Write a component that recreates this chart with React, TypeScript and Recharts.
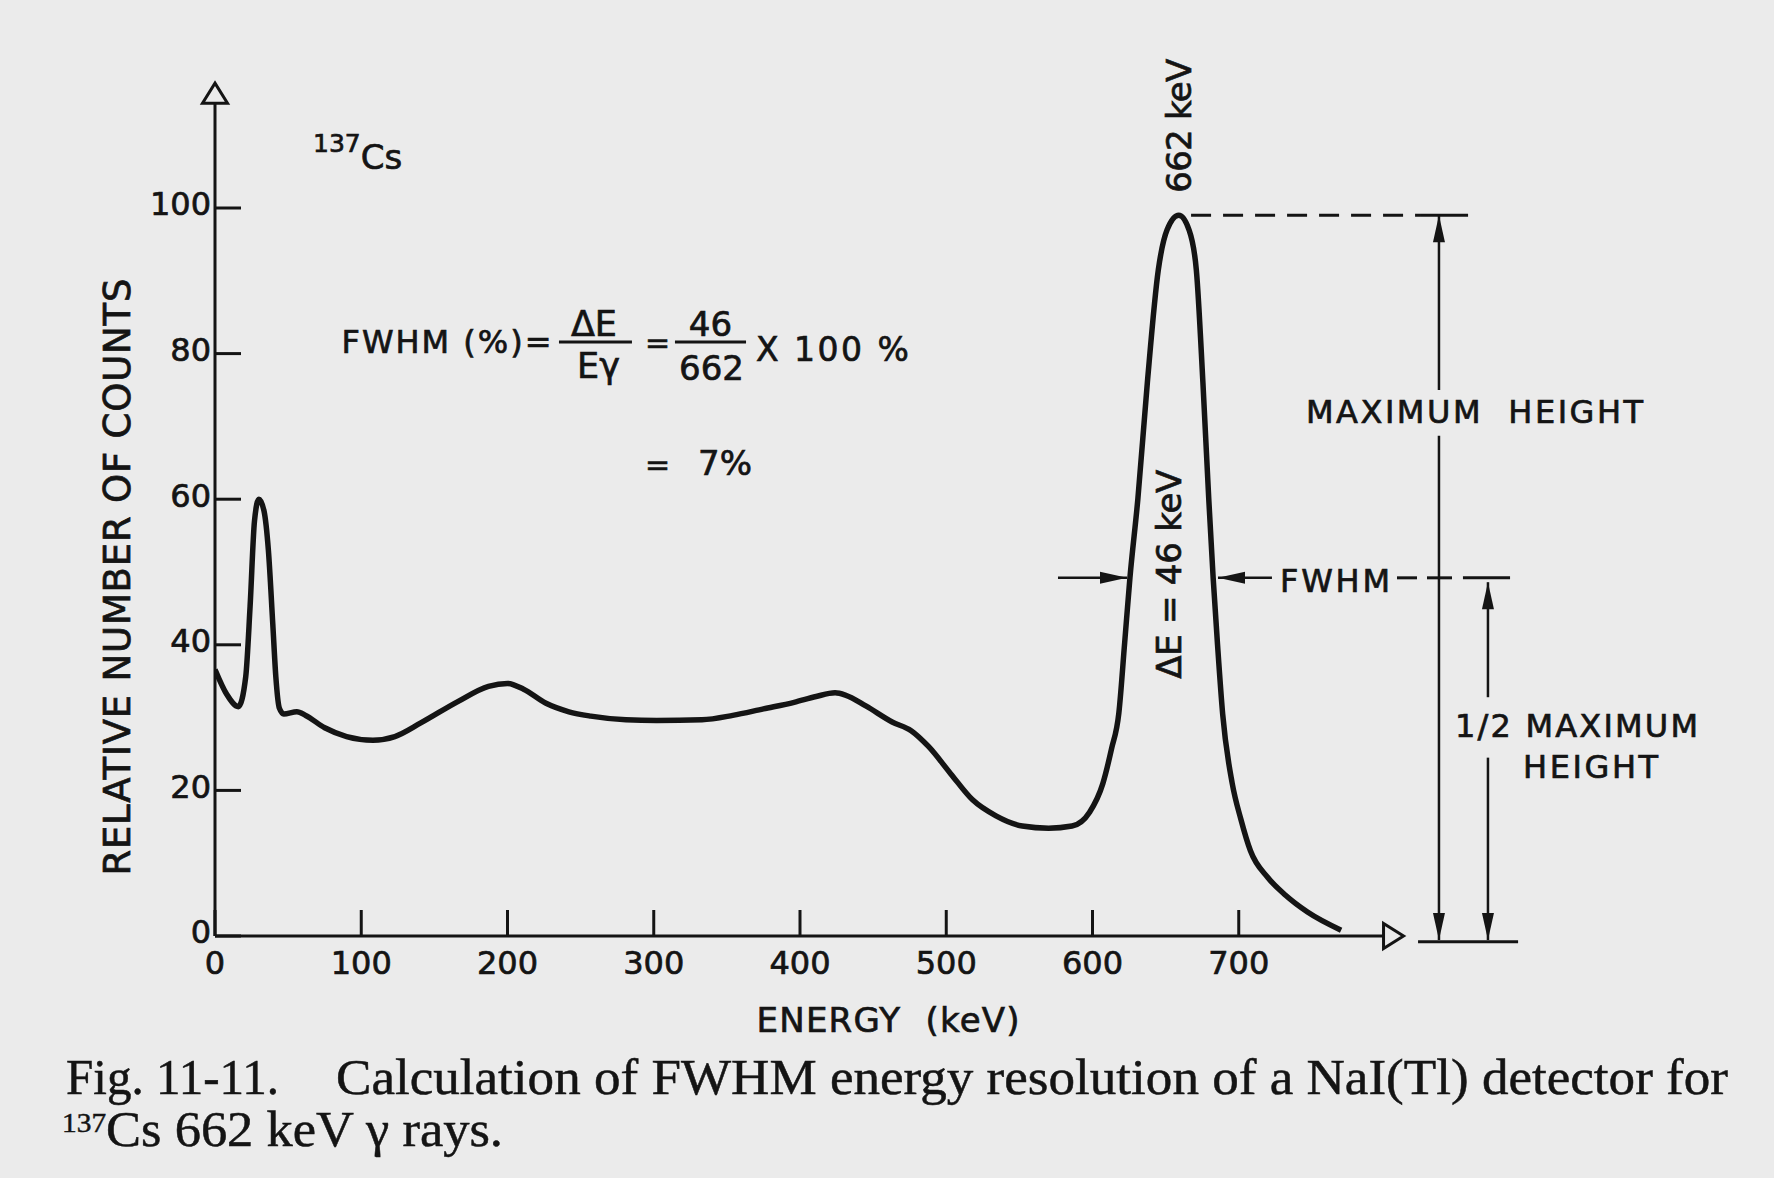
import React from 'react';
import { LineChart, Line, XAxis, YAxis, ReferenceLine, ReferenceDot } from 'recharts';

// 137Cs pulse-height spectrum from a NaI(Tl) detector
const energyKeV = [
  0, 8, 16, 21, 24, 27, 30, 33.5, 36.5, 39.5, 41.6, 44, 47, 56, 62, 75, 90, 108, 123, 141,
  166, 187, 200, 211, 226, 242, 257, 281, 302, 333, 354, 375, 396, 411, 424, 431, 445, 463,
  476, 488, 503, 518, 534, 552, 570, 586, 598, 607, 613, 618, 622, 625.6, 631, 637.5, 645,
  651, 659, 666, 671, 675.5, 679.5, 682.5, 685.5, 689, 695.5, 701.5, 708, 720, 732, 747, 770,
];
const relCounts = [
  36.6, 33.2, 31.5, 35.6, 45.3, 57, 60, 58.4, 53, 42.9, 35.6, 31.3, 30.5, 30.8, 30.3, 28.6,
  27.4, 26.9, 27.4, 29.3, 32.2, 34.3, 34.7, 33.9, 32, 30.8, 30.2, 29.7, 29.6, 29.7, 30.3,
  31.2, 32.1, 32.9, 33.4, 33.1, 31.6, 29.4, 28.2, 26, 22.3, 18.7, 16.5, 15.1, 14.8, 15.1, 17,
  20.9, 25.7, 30.6, 40.3, 49.2, 60, 76, 91.5, 97, 99, 97, 91.5, 76, 60, 49.2, 40, 30.5, 21,
  16, 11.7, 8, 5.6, 3.3, 0.8,
];

const xTicks = [0, 100, 200, 300, 400, 500, 600, 700];
const yTicks = [0, 20, 40, 60, 80, 100];

const spectrum = energyKeV.map((e, i) => ({ e, c: relCounts[i] }));

const INK = '#141414';
const PAPER = '#ebebeb';
const SANS = '"DejaVu Sans", sans-serif';
const SERIF = '"Liberation Serif", "Times New Roman", serif';
const BOLDEN = 0.7; // lettering in the figure is a bit heavier than DejaVu regular

// straight line with optional filled arrowheads (dimension lines)
function dim(opts: { start?: boolean; end?: boolean; dash?: string; w?: number } = {}) {
  return (p: any) => {
    const { x1, y1, x2, y2 } = p;
    const len = Math.hypot(x2 - x1, y2 - y1) || 1;
    const ux = (x2 - x1) / len;
    const uy = (y2 - y1) / len;
    const head = (tx: number, ty: number, dx: number, dy: number) => {
      const L = 27;
      const W = 6;
      const bx = tx - dx * L;
      const by = ty - dy * L;
      return (
        <polygon
          points={`${tx},${ty} ${bx - dy * W},${by + dx * W} ${bx + dy * W},${by - dx * W}`}
          fill={INK}
        />
      );
    };
    return (
      <g>
        <line x1={x1} y1={y1} x2={x2} y2={y2} stroke={INK} strokeWidth={opts.w ?? 2.5} strokeDasharray={opts.dash} />
        {opts.end && head(x2, y2, ux, uy)}
        {opts.start && head(x1, y1, -ux, -uy)}
      </g>
    );
  };
}

// axis line ending in a hollow triangle
const axisArrow = (p: any) => {
  const { x1, y1, x2, y2 } = p;
  const len = Math.hypot(x2 - x1, y2 - y1) || 1;
  const ux = (x2 - x1) / len;
  const uy = (y2 - y1) / len;
  const L = 20;
  const W = 12.5;
  const tip = `${x2 + ux * L},${y2 + uy * L}`;
  return (
    <g>
      <line x1={x1} y1={y1} x2={x2} y2={y2} stroke={INK} strokeWidth={3} />
      <polygon
        points={`${tip} ${x2 - uy * W},${y2 + ux * W} ${x2 + uy * W},${y2 - ux * W}`}
        fill={PAPER}
        stroke={INK}
        strokeWidth={3}
      />
    </g>
  );
};

function note(
  content: React.ReactNode,
  o: { size: number; anchor?: 'start' | 'middle' | 'end'; rotate?: boolean; len?: number }
) {
  return (p: any) => (
    <text
      x={p.cx}
      y={p.cy}
      fontSize={o.size}
      fontFamily={SANS}
      fill={INK}
      stroke={INK}
      strokeWidth={BOLDEN}
      textAnchor={o.anchor ?? 'start'}
      textLength={o.len}
      lengthAdjust="spacing"
      dominantBaseline={o.rotate ? 'central' : undefined}
      transform={o.rotate ? `rotate(-90 ${p.cx} ${p.cy})` : undefined}
      style={{ whiteSpace: 'pre' }}
    >
      {content}
    </text>
  );
}

export default function App() {
  const tickText = { fill: INK, stroke: INK, strokeWidth: BOLDEN, fontSize: 32, fontFamily: SANS };
  return (
    <div
      style={{
        position: 'absolute',
        left: 0,
        top: 0,
        width: 1774,
        height: 1178,
        background: PAPER,
        fontFamily: SANS,
        overflow: 'hidden',
      }}
    >
      <LineChart
        width={1774}
        height={1178}
        data={spectrum}
        margin={{ top: 62.4, right: 8.75, bottom: 182, left: 115 }}
      >
        <XAxis
          dataKey="e"
          type="number"
          domain={[0, 1060]}
          allowDataOverflow
          ticks={xTicks}
          interval={0}
          height={60}
          axisLine={false}
          tickSize={-26}
          tickMargin={41}
          tickLine={{ stroke: INK, strokeWidth: 3 }}
          tick={tickText}
        />
        <YAxis
          type="number"
          domain={[0, 120]}
          allowDataOverflow
          ticks={yTicks}
          interval={0}
          width={100}
          axisLine={false}
          tickSize={-26}
          tickMargin={30}
          tickLine={{ stroke: INK, strokeWidth: 3 }}
          tick={{ ...tickText, dy: -4 }}
        />

        {/* axes with open arrowheads */}
        <ReferenceLine segment={[{ x: 0, y: 0 }, { x: 799, y: 0 }]} ifOverflow="visible" shape={axisArrow} />
        <ReferenceLine segment={[{ x: 0, y: 0 }, { x: 0, y: 114.4 }]} ifOverflow="visible" shape={axisArrow} />

        <Line
          type="monotone"
          dataKey="c"
          stroke={INK}
          strokeWidth={5.5}
          dot={false}
          activeDot={false}
          isAnimationActive={false}
        />

        {/* axis titles */}
        <ReferenceDot x={-67} y={49.3} r={0} ifOverflow="visible"
          shape={note('RELATIVE NUMBER OF COUNTS', { size: 37, anchor: 'middle', rotate: true, len: 597 })} />
        <ReferenceDot x={460.2} y={-13.2} r={0} ifOverflow="visible"
          shape={note('ENERGY  (keV)', { size: 34, anchor: 'middle', len: 263 })} />

        {/* source label */}
        <ReferenceDot x={67} y={107.7} r={0} ifOverflow="visible"
          shape={note(
            <>
              <tspan fontSize={25}>137</tspan>
              <tspan fontSize={34} dy={17}>Cs</tspan>
            </>,
            { size: 34 }
          )} />

        {/* FWHM formula */}
        <ReferenceDot x={86.5} y={80.1} r={0} ifOverflow="visible"
          shape={note('FWHM (%)=', { size: 32, len: 210 })} />
        <ReferenceDot x={259.1} y={82.4} r={0} ifOverflow="visible"
          shape={note('ΔE', { size: 35, anchor: 'middle' })} />
        <ReferenceLine segment={[{ x: 235.2, y: 81.6 }, { x: 285.1, y: 81.6 }]} ifOverflow="visible" shape={dim({ w: 3 })} />
        <ReferenceDot x={262.2} y={76.6} r={0} ifOverflow="visible"
          shape={note('Eγ', { size: 35, anchor: 'middle' })} />
        <ReferenceDot x={302.6} y={80.1} r={0} ifOverflow="visible"
          shape={note('=', { size: 30, anchor: 'middle' })} />
        <ReferenceDot x={338.8} y={82.4} r={0} ifOverflow="visible"
          shape={note('46', { size: 34, anchor: 'middle' })} />
        <ReferenceLine segment={[{ x: 314.5, y: 81.6 }, { x: 363.1, y: 81.6 }]} ifOverflow="visible" shape={dim({ w: 3 })} />
        <ReferenceDot x={339.5} y={76.4} r={0} ifOverflow="visible"
          shape={note('662', { size: 34, anchor: 'middle' })} />
        <ReferenceDot x={369.9} y={79.0} r={0} ifOverflow="visible"
          shape={note('X 100 %', { size: 33, len: 153 })} />
        <ReferenceDot x={302.6} y={63.3} r={0} ifOverflow="visible"
          shape={note('=', { size: 30, anchor: 'middle' })} />
        <ReferenceDot x={330.3} y={63.3} r={0} ifOverflow="visible"
          shape={note('7%', { size: 34 })} />

        {/* photopeak annotations */}
        <ReferenceDot x={659.1} y={111.3} r={0} ifOverflow="visible"
          shape={note('662 keV', { size: 34, anchor: 'middle', rotate: true, len: 134 })} />
        <ReferenceDot x={652.3} y={49.7} r={0} ifOverflow="visible"
          shape={note('ΔE = 46 keV', { size: 34, anchor: 'middle', rotate: true, len: 209 })} />

        {/* maximum height */}
        <ReferenceLine segment={[{ x: 667.4, y: 99 }, { x: 824.6, y: 99 }]} ifOverflow="visible" shape={dim({ dash: '20 12', w: 3 })} />
        <ReferenceLine segment={[{ x: 824.6, y: 99 }, { x: 856.8, y: 99 }]} ifOverflow="visible" shape={dim({ w: 3 })} />
        <ReferenceLine segment={[{ x: 836.9, y: 75 }, { x: 836.9, y: 99 }]} ifOverflow="visible" shape={dim({ end: true })} />
        <ReferenceLine segment={[{ x: 836.9, y: 68.7 }, { x: 836.9, y: -0.55 }]} ifOverflow="visible" shape={dim({ end: true })} />
        <ReferenceDot x={861.2} y={70.5} r={0} ifOverflow="visible"
          shape={note('MAXIMUM  HEIGHT', { size: 32, anchor: 'middle', len: 337 })} />

        {/* FWHM row */}
        <ReferenceLine segment={[{ x: 576.4, y: 49.2 }, { x: 623.6, y: 49.2 }]} ifOverflow="visible" shape={dim({ end: true })} />
        <ReferenceLine segment={[{ x: 722.7, y: 49.2 }, { x: 685.8, y: 49.2 }]} ifOverflow="visible" shape={dim({ end: true })} />
        <ReferenceDot x={728.2} y={47.3} r={0} ifOverflow="visible"
          shape={note('FWHM', { size: 32, len: 110 })} />
        <ReferenceLine segment={[{ x: 808.2, y: 49.2 }, { x: 821.9, y: 49.2 }]} ifOverflow="visible" shape={dim({ w: 3 })} />
        <ReferenceLine segment={[{ x: 828.7, y: 49.2 }, { x: 845.8, y: 49.2 }]} ifOverflow="visible" shape={dim({ w: 3 })} />
        <ReferenceLine segment={[{ x: 853.3, y: 49.2 }, { x: 885.5, y: 49.2 }]} ifOverflow="visible" shape={dim({ w: 3 })} />

        {/* half maximum height */}
        <ReferenceLine segment={[{ x: 870.4, y: 32.8 }, { x: 870.4, y: 48.6 }]} ifOverflow="visible" shape={dim({ end: true })} />
        <ReferenceLine segment={[{ x: 870.4, y: 24.5 }, { x: 870.4, y: -0.55 }]} ifOverflow="visible" shape={dim({ end: true })} />
        <ReferenceDot x={847.9} y={27.4} r={0} ifOverflow="visible"
          shape={note('1/2 MAXIMUM', { size: 32, len: 243 })} />
        <ReferenceDot x={894.4} y={21.7} r={0} ifOverflow="visible"
          shape={note('HEIGHT', { size: 32, len: 135 })} />
        <ReferenceLine segment={[{ x: 822.6, y: -0.8 }, { x: 891, y: -0.8 }]} ifOverflow="visible" shape={dim({ w: 3 })} />
      </LineChart>

      <svg width={1774} height={140} style={{ position: 'absolute', left: 0, top: 1040 }}>
        <g fontFamily={SERIF} fontSize={50} fill={INK} stroke={INK} strokeWidth={0.5}>
          <text x={66} y={54} textLength={213} lengthAdjust="spacingAndGlyphs">
            Fig. 11-11.
          </text>
          <text x={336} y={54} textLength={1392} lengthAdjust="spacingAndGlyphs">
            Calculation of FWHM energy resolution of a NaI(Tl) detector for
          </text>
          <text x={62} y={106} textLength={441} lengthAdjust="spacingAndGlyphs">
            <tspan fontSize={28} dy={-14}>137</tspan>
            <tspan dy={14}>Cs 662 keV γ rays.</tspan>
          </text>
        </g>
      </svg>
    </div>
  );
}
